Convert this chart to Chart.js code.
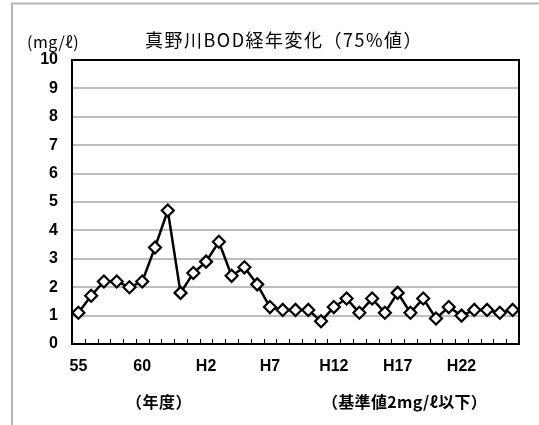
<!DOCTYPE html>
<html><head><meta charset="utf-8">
<script src="https://cdn.jsdelivr.net/npm/chart.js@4/dist/chart.umd.min.js"></script>
<style>html,body{margin:0;padding:0;background:#fff;}#wrap{width:539px;height:425px;position:relative;}</style>
</head><body><div id="wrap"><canvas id="c" width="539" height="425"></canvas></div>
<script>
const categories = ["55","56","57","58","59","60","61","62","63","H1","H2","H3","H4","H5","H6","H7","H8","H9","H10","H11","H12","H13","H14","H15","H16","H17","H18","H19","H20","H21","H22","H23","H24","H25","H26"];
const bodValues = [1.1,1.7,2.2,2.2,2.0,2.2,3.4,4.7,1.8,2.5,2.9,3.6,2.4,2.7,2.1,1.3,1.2,1.2,1.2,0.8,1.3,1.6,1.1,1.6,1.1,1.8,1.1,1.6,0.9,1.3,1.0,1.2,1.2,1.1,1.2];
const yTicks = [0,1,2,3,4,5,6,7,8,9,10];
const titleText = "真野川BOD経年変化（75%値）";
const unitText = "(mg/ℓ)";
const xTitle = "（年度）";
const noteText = "（基準値2mg/ℓ以下）";

const JP = '"Liberation Sans","Noto Sans CJK JP",sans-serif';
const JPT = '"Noto Sans CJK JP",sans-serif';

const deco = {
  id: 'deco',
  beforeDraw(chart) {
    const ctx = chart.ctx;
    ctx.save();
    ctx.fillStyle = '#fff';
    ctx.fillRect(0, 0, chart.width, chart.height);
    ctx.strokeStyle = '#b4b4b4';
    ctx.lineWidth = 2;
    ctx.beginPath();
    ctx.moveTo(12, 425); ctx.lineTo(12, 3.5); ctx.lineTo(539, 3.5);
    ctx.stroke();
    ctx.restore();
  },
  afterDraw(chart) {
    const ctx = chart.ctx, a = chart.chartArea, xs = chart.scales.x;
    ctx.save();
    ctx.strokeStyle = '#000';
    ctx.lineWidth = 1;
    ctx.beginPath();
    for (let i = 1; i < categories.length; i++) {
      const px = Math.round((xs.getPixelForValue(i - 1) + xs.getPixelForValue(i)) / 2) + 0.5;
      ctx.moveTo(px, a.bottom); ctx.lineTo(px, a.bottom - 5);
    }
    ctx.stroke();
    ctx.strokeStyle = '#000';
    ctx.lineWidth = 2;
    ctx.strokeRect(a.left, a.top, a.right - a.left, a.bottom - a.top);
    ctx.fillStyle = '#000';
    ctx.textBaseline = 'middle';
    ctx.textAlign = 'left';
    ctx.letterSpacing = '1.5px';
    ctx.font = '18px ' + JPT;
    ctx.fillText(titleText, 145, 40);
    ctx.letterSpacing = '0.5px';
    ctx.font = '16px ' + JPT;
    ctx.fillText(unitText, 27, 42);
    ctx.letterSpacing = '0.5px';
    ctx.font = 'bold 16px ' + JPT;
    ctx.fillText(xTitle, 126, 402);
    ctx.letterSpacing = '0.3px';
    ctx.font = 'bold 16px ' + JPT;
    ctx.fillText(noteText, 322, 402);
    ctx.restore();
  }
};

new Chart(document.getElementById('c'), {
  type: 'line',
  data: {
    labels: categories,
    datasets: [{
      data: bodValues,
      borderColor: '#000',
      borderWidth: 2.5,
      pointStyle: 'rectRot',
      pointRadius: 6,
      pointBorderWidth: 2.2,
      pointBackgroundColor: '#fff',
      pointBorderColor: '#000',
      tension: 0
    }]
  },
  options: {
    responsive: false,
    animation: false,
    layout: { padding: { left: 12, top: 60, right: 20, bottom: 41 } },
    plugins: { legend: { display: false }, tooltip: { enabled: false }, title: { display: false } },
    scales: {
      x: {
        type: 'category',
        offset: true,
        afterFit(s) { s.height = 40; },
        grid: { display: false, drawTicks: false },
        border: { display: false },
        ticks: {
          autoSkip: false, maxRotation: 0, padding: 13,
          color: '#000',
          font: { family: JP, size: 16, weight: 'bold' },
          callback(v, i) { return i % 5 === 0 ? categories[i] : ''; }
        }
      },
      y: {
        min: 0, max: 10,
        afterFit(s) { s.width = 60; },
        afterBuildTicks(s) { s.ticks = yTicks.map(v => ({ value: v })); },
        grid: { color: '#bdbdbd', lineWidth: 2, drawTicks: false },
        border: { display: false },
        ticks: {
          padding: 14, color: '#000',
          font: { family: JP, size: 16, weight: 'bold' }
        }
      }
    }
  },
  plugins: [deco]
});
</script></body></html>
